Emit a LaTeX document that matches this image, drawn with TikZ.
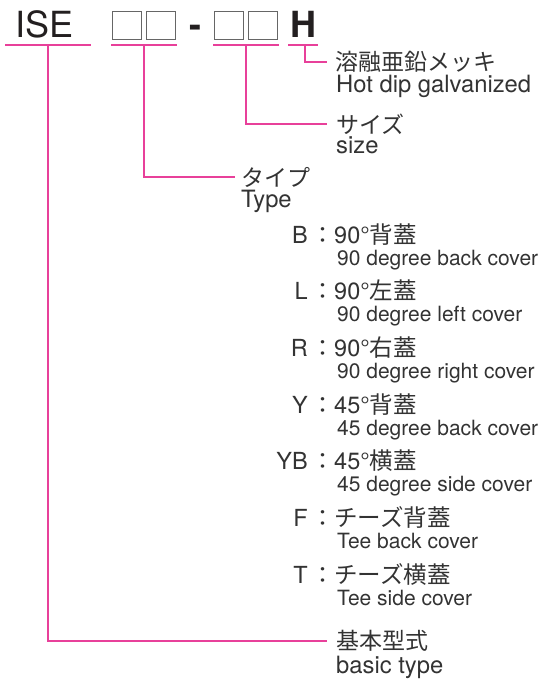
\documentclass[tikz,border=0pt]{standalone}
\usepackage{fontspec}
\setmainfont{TeX Gyre Heros}
\newfontfamily\jpfont{Noto Sans CJK JP}
\definecolor{rosa}{HTML}{E8409A}
\definecolor{ink}{HTML}{231F20}
\definecolor{greytext}{HTML}{333333}

\begin{document}
\begin{tikzpicture}[x=1pt, y=-1pt,
	codetext/.style={anchor=base west, inner sep=0pt, text=ink, font=\fontsize{36}{36}\selectfont},
	codebox/.style={draw=black!60, line width=1pt, minimum width=29pt, minimum height=28pt, inner sep=0pt},
	uline/.style={rosa, line width=1.3pt},
	conn/.style={rosa, line width=1.3pt},
	jplabel/.style={anchor=west, inner sep=0pt, text=greytext, font=\jpfont\fontsize{23}{23}\selectfont},
	enlabel/.style={anchor=base west, inner sep=0pt, text=greytext, font=\fontsize{23.8}{23.8}\selectfont},
	keylabel/.style={anchor=base east, inner sep=0pt, text=greytext, font=\fontsize{23.5}{23.5}\selectfont},
	colonlabel/.style={anchor=base, inner sep=0pt, text=greytext, font=\jpfont\fontsize{23}{23}\selectfont},
	mainlabel/.style={anchor=base west, inner sep=0pt, text=greytext, font=\fontsize{23.5}{23.5}\selectfont},
	sublabel/.style={anchor=base west, inner sep=0pt, text=greytext, font=\fontsize{21}{21}\selectfont}]
	\useasboundingbox (0,0) rectangle (549,679);
	% code
	\node[codetext] (ise) at (15,38) {ISE};
	\node[codebox] (typeA) at (127.2,25.8) {};
	\node[codebox] (typeB) at (161.3,25.8) {};
	\node[codetext, anchor=base, font=\bfseries\fontsize{36}{36}\selectfont] (dash) at (195,38) {-};
	\node[codebox] (sizeA) at (229,25.8) {};
	\node[codebox] (sizeB) at (262.7,25.8) {};
	\node[codetext, font=\bfseries\fontsize{36}{36}\selectfont] (hot) at (290,38) {H};
	% underlines
	\draw[uline] (5,45) -- (91,45);
	\draw[uline] (111,45) -- (177,45);
	\draw[uline] (213,45) -- (279,45);
	\draw[uline] (288,45) -- (318,45);
	\coordinate (baseU) at (48,45);
	\coordinate (typeU) at (144,45);
	\coordinate (sizeU) at (246,45);
	\coordinate (hotU) at (305,45);
	% labels
	\node[jplabel] (lblHot) at (335,62) {溶融亜鉛メッキ};
	\node[enlabel] (enHot) at (336,93) {Hot dip galvanized};
	\node[jplabel] (lblSize) at (336,124) {サイズ};
	\node[enlabel] (enSize) at (336,153.5) {size};
	\node[jplabel] (lblType) at (241,177) {タイプ};
	\node[enlabel] (enType) at (241,207) {Type};
	\node[jplabel] (lblBasic) at (336,641) {基本型式};
	\node[enlabel] (enBasic) at (336,673) {basic type};
	% type list
	\node[keylabel] (keyB) at (308,243) {B};
	\node[colonlabel] (colB) at (323,243) {：};
	\node[mainlabel] (mainB) at (334,243) {90°{\jpfont 背蓋}};
	\node[sublabel] (subB) at (337,265) {90 degree back cover};
	\node[keylabel] (keyL) at (308,299.7) {L};
	\node[colonlabel] (colL) at (323,299.7) {：};
	\node[mainlabel] (mainL) at (334,299.7) {90°{\jpfont 左蓋}};
	\node[sublabel] (subL) at (337,321.7) {90 degree left cover};
	\node[keylabel] (keyR) at (308,356.3) {R};
	\node[colonlabel] (colR) at (323,356.3) {：};
	\node[mainlabel] (mainR) at (334,356.3) {90°{\jpfont 右蓋}};
	\node[sublabel] (subR) at (337,378.3) {90 degree right cover};
	\node[keylabel] (keyY) at (308,413) {Y};
	\node[colonlabel] (colY) at (323,413) {：};
	\node[mainlabel] (mainY) at (334,413) {45°{\jpfont 背蓋}};
	\node[sublabel] (subY) at (337,435) {45 degree back cover};
	\node[keylabel] (keyYB) at (308,469.7) {YB};
	\node[colonlabel] (colYB) at (323,469.7) {：};
	\node[mainlabel] (mainYB) at (334,469.7) {45°{\jpfont 横蓋}};
	\node[sublabel] (subYB) at (337,491.7) {45 degree side cover};
	\node[keylabel] (keyF) at (308,526.3) {F};
	\node[colonlabel] (colF) at (323,526.3) {：};
	\node[mainlabel] (mainF) at (334,526.3) {{\jpfont チーズ背蓋}};
	\node[sublabel] (subF) at (337,548.3) {Tee back cover};
	\node[keylabel] (keyT) at (308,583) {T};
	\node[colonlabel] (colT) at (323,583) {：};
	\node[mainlabel] (mainT) at (334,583) {{\jpfont チーズ横蓋}};
	\node[sublabel] (subT) at (337,605) {Tee side cover};
	% connectors
	\draw[conn] (hotU) |- ([xshift=-8pt]lblHot.west);
	\draw[conn] (sizeU) |- ([xshift=-9pt]lblSize.west);
	\draw[conn] (typeU) |- ([xshift=-6pt]lblType.west);
	\draw[conn] (baseU) |- ([xshift=-9pt]lblBasic.west);
\end{tikzpicture}
\end{document}
